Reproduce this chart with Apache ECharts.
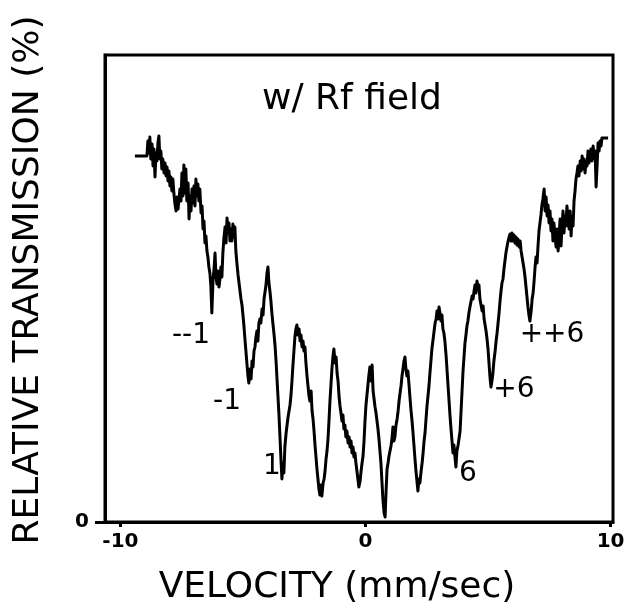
<!DOCTYPE html>
<html>
<head>
<meta charset="utf-8">
<script src="https://cdn.jsdelivr.net/npm/echarts@6/dist/echarts.min.js"></script>
<style>
html,body{margin:0;padding:0;background:#fff;}
#chart{width:631px;height:614px;}
</style>
</head>
<body>
<div id="chart"></div>
<script>
// Velocity (mm/sec)
var velocity = [
-9.41,-9.16,-8.92,-8.88,-8.84,-8.80,-8.76,-8.71,-8.67,-8.63,-8.59,-8.55,-8.51,-8.47,-8.43,-8.39,-8.35,-8.31,-8.27,-8.22,
-8.18,-8.14,-8.10,-8.06,-8.02,-7.98,-7.94,-7.90,-7.86,-7.82,-7.78,-7.73,-7.69,-7.65,-7.61,-7.57,-7.53,-7.49,-7.45,-7.41,
-7.37,-7.33,-7.29,-7.24,-7.20,-7.16,-7.12,-7.08,-7.04,-7.00,-6.96,-6.92,-6.88,-6.84,-6.80,-6.76,-6.71,-6.67,-6.63,-6.59,
-6.55,-6.51,-6.47,-6.43,-6.39,-6.35,-6.31,-6.27,-6.22,-6.18,-6.14,-6.10,-6.06,-6.02,-5.98,-5.94,-5.90,-5.86,-5.82,-5.78,
-5.73,-5.69,-5.65,-5.61,-5.57,-5.53,-5.49,-5.45,-5.41,-5.37,-5.33,-5.29,-5.24,-5.20,-5.16,-5.12,-5.08,-5.04,-5.00,-4.96,
-4.92,-4.88,-4.84,-4.80,-4.76,-4.71,-4.67,-4.63,-4.59,-4.55,-4.51,-4.47,-4.43,-4.39,-4.35,-4.31,-4.27,-4.22,-4.18,-4.14,
-4.10,-4.06,-4.02,-3.98,-3.94,-3.90,-3.86,-3.82,-3.78,-3.73,-3.69,-3.65,-3.61,-3.57,-3.53,-3.49,-3.45,-3.41,-3.37,-3.33,
-3.29,-3.24,-3.20,-3.16,-3.12,-3.08,-3.04,-3.00,-2.96,-2.92,-2.88,-2.84,-2.80,-2.76,-2.71,-2.67,-2.63,-2.59,-2.55,-2.51,
-2.47,-2.43,-2.39,-2.35,-2.31,-2.27,-2.22,-2.18,-2.14,-2.10,-2.06,-2.02,-1.98,-1.94,-1.90,-1.86,-1.82,-1.78,-1.73,-1.69,
-1.65,-1.61,-1.57,-1.53,-1.49,-1.45,-1.41,-1.37,-1.33,-1.29,-1.24,-1.20,-1.16,-1.12,-1.08,-1.04,-1.00,-0.96,-0.92,-0.88,
-0.84,-0.80,-0.76,-0.71,-0.67,-0.63,-0.59,-0.55,-0.51,-0.47,-0.43,-0.39,-0.35,-0.31,-0.27,-0.22,-0.18,-0.14,-0.10,-0.06,
-0.02,0.02,0.06,0.10,0.14,0.18,0.22,0.27,0.31,0.35,0.39,0.43,0.47,0.51,0.55,0.59,0.63,0.67,0.71,0.76,
0.80,0.84,0.88,0.92,0.96,1.00,1.04,1.08,1.12,1.16,1.20,1.24,1.29,1.33,1.37,1.41,1.45,1.49,1.53,1.57,
1.61,1.65,1.69,1.73,1.78,1.82,1.86,1.90,1.94,1.98,2.02,2.06,2.10,2.14,2.18,2.22,2.27,2.31,2.35,2.39,
2.43,2.47,2.51,2.55,2.59,2.63,2.67,2.71,2.76,2.80,2.84,2.88,2.92,2.96,3.00,3.04,3.08,3.12,3.16,3.20,
3.24,3.29,3.33,3.37,3.41,3.45,3.49,3.53,3.57,3.61,3.65,3.69,3.73,3.78,3.82,3.86,3.90,3.94,3.98,4.02,
4.06,4.10,4.14,4.18,4.22,4.27,4.31,4.35,4.39,4.43,4.47,4.51,4.55,4.59,4.63,4.67,4.71,4.76,4.80,4.84,
4.88,4.92,4.96,5.00,5.04,5.08,5.12,5.16,5.20,5.24,5.29,5.33,5.37,5.41,5.45,5.49,5.53,5.57,5.61,5.65,
5.69,5.73,5.78,5.82,5.86,5.90,5.94,5.98,6.02,6.06,6.10,6.14,6.18,6.22,6.27,6.31,6.35,6.39,6.43,6.47,
6.51,6.55,6.59,6.63,6.67,6.71,6.76,6.80,6.84,6.88,6.92,6.96,7.00,7.04,7.08,7.12,7.16,7.20,7.24,7.29,
7.33,7.37,7.41,7.45,7.49,7.53,7.57,7.61,7.65,7.69,7.73,7.78,7.82,7.86,7.90,7.94,7.98,8.02,8.06,8.10,
8.14,8.18,8.22,8.27,8.31,8.35,8.39,8.43,8.47,8.51,8.55,8.59,8.63,8.67,8.71,8.76,8.80,8.84,8.88,8.92,
8.96,9.00,9.04,9.08,9.12,9.16,9.20,9.24,9.29,9.33,9.37,9.41,9.45,9.49,9.53,9.57,9.61,9.65,9.78,9.90
];
// Relative transmission (arbitrary %, zero at baseline)
var transmission = [
73.2,73.2,73.2,76.2,73.8,77.0,72.6,75.6,71.2,74.6,69.0,73.8,72.2,75.8,77.2,72.6,74.2,70.6,72.6,69.8,
71.8,69.2,71.0,68.2,70.2,67.2,69.0,66.2,68.6,65.8,63.8,62.2,65.0,62.6,64.6,66.6,64.2,69.8,65.2,71.4,
65.8,70.6,64.2,67.8,60.6,65.2,62.2,66.6,63.8,67.2,63.2,68.6,65.2,67.6,64.2,66.6,61.8,63.2,58.6,60.2,
55.8,57.2,54.2,53.0,51.0,49.8,47.2,41.8,48.6,50.6,53.8,49.0,47.6,50.2,47.0,48.6,51.0,49.0,53.8,56.6,
59.0,55.8,60.8,57.8,59.8,56.2,58.6,56.2,59.6,57.0,59.0,54.2,51.4,49.4,47.8,46.2,44.6,43.4,41.4,39.2,
36.6,34.2,31.8,29.4,27.8,30.6,28.6,32.2,31.0,34.2,35.0,37.0,38.2,36.2,39.8,40.6,39.8,42.6,41.4,44.6,
45.0,47.4,49.8,51.0,47.8,46.2,44.2,41.8,39.8,37.4,35.2,32.2,28.6,25.0,21.4,17.0,12.6,8.6,11.8,9.8,
15.0,17.8,19.4,21.0,22.2,23.4,25.4,28.2,31.4,34.2,37.0,38.6,39.4,37.4,38.6,36.2,37.4,35.0,36.2,34.2,
35.0,31.8,29.4,27.4,25.4,24.2,26.2,22.2,20.6,18.2,15.4,13.0,10.6,8.6,6.6,5.4,7.4,5.2,7.8,8.6,
10.2,12.6,14.2,16.6,20.2,24.2,27.4,30.6,33.0,34.6,31.8,33.0,29.8,28.2,25.2,23.2,21.8,20.2,21.4,18.6,
19.4,17.0,18.2,15.8,17.0,15.0,16.2,13.8,15.0,13.0,13.8,11.8,10.2,8.6,7.0,8.2,10.2,11.8,13.2,16.2,
20.2,23.4,25.4,27.4,29.4,31.0,28.2,31.4,26.2,24.6,23.0,21.8,20.2,18.6,16.6,14.2,11.8,8.2,4.6,1.8,
1.0,6.2,10.6,11.8,13.2,14.2,15.2,16.6,19.0,16.2,17.0,19.2,20.6,22.2,24.2,25.8,27.2,29.2,30.6,32.2,
33.0,30.6,29.2,30.2,27.2,24.6,22.2,20.2,17.8,15.2,12.6,10.2,8.2,6.2,8.6,7.8,10.2,11.8,13.8,16.2,
17.8,20.6,23.2,25.2,27.2,29.8,32.2,34.6,36.6,38.2,39.8,40.6,42.2,40.6,43.0,41.8,40.2,41.4,38.6,37.8,
36.2,33.2,30.2,27.2,24.2,21.2,18.6,16.2,13.8,15.4,13.0,11.0,14.2,15.4,15.8,18.2,22.2,26.2,30.2,33.0,
35.8,37.4,39.2,40.2,41.8,43.2,44.2,45.2,44.6,46.2,47.4,45.8,48.2,46.6,47.4,44.6,44.2,42.2,43.2,40.6,
40.2,38.2,36.6,34.6,31.8,29.0,27.0,28.2,29.8,32.2,34.2,36.2,37.8,39.8,41.8,44.2,46.2,47.8,48.6,50.6,
52.2,53.8,55.2,56.2,57.0,57.6,56.2,57.8,56.2,57.4,55.8,57.0,55.4,56.6,55.0,56.2,54.2,53.0,51.8,50.6,
49.0,47.0,45.0,43.0,41.4,40.2,42.2,44.6,45.8,48.2,51.0,53.0,51.8,55.2,58.2,59.8,61.4,63.4,64.6,66.6,
62.2,65.0,61.2,63.4,59.8,62.2,58.2,60.6,56.2,59.8,57.2,55.0,58.6,54.2,57.2,60.6,55.2,59.2,62.2,57.8,
61.2,59.2,63.2,60.6,58.6,62.2,57.2,61.2,59.2,64.2,66.2,68.6,69.8,71.2,69.2,72.2,70.2,73.2,70.6,72.6,
69.8,72.2,71.2,74.2,71.8,73.2,74.6,72.2,75.2,72.6,74.2,67.0,71.2,75.8,74.2,76.2,75.2,76.8,76.8,76.8
];
var xTickValues = [-10, 0, 10];
var yTickValues = [0];
var peakLabels = ['--1', '-1', '1', '6', '+6', '++6'];
var titleText = 'w/ Rf field';
var xTitle = 'VELOCITY (mm/sec)';
var yTitle = 'RELATIVE TRANSMISSION (%)';

var seriesData = velocity.map(function (v, i) { return [v, transmission[i]]; });

var chart = echarts.init(document.getElementById('chart'), null, {renderer: 'canvas'});
var FONT = '"DejaVu Sans", sans-serif';
var labelPos = [[191, 336], [227, 402], [272, 467], [468, 474], [514, 390], [552, 335]];
var graphics = [
  {type: 'text', x: 352, y: 100, style: {text: titleText, font: 'normal 36px ' + FONT, fill: '#000', textAlign: 'center', textVerticalAlign: 'middle'}},
  {type: 'text', x: 337, y: 588, style: {text: xTitle, font: 'normal 36px ' + FONT, fill: '#000', textAlign: 'center', textVerticalAlign: 'middle'}},
  {type: 'text', x: 29, y: 280, rotation: Math.PI / 2, style: {text: yTitle, font: 'normal 36px ' + FONT, fill: '#000', textAlign: 'center', textVerticalAlign: 'middle'}}
];
peakLabels.forEach(function (t, i) {
  graphics.push({type: 'text', x: labelPos[i][0], y: labelPos[i][1], style: {text: t, font: 'normal 28px ' + FONT, fill: '#000', textAlign: 'center', textVerticalAlign: 'middle'}});
});

chart.setOption({
  animation: false,
  backgroundColor: '#fff',
  grid: {left: 105, right: 18, top: 55, bottom: 92, show: true, borderColor: '#000', borderWidth: 3, backgroundColor: 'transparent'},
  xAxis: {
    type: 'value', min: -10.63, max: 10.1,
    axisLine: {show: true, onZero: false, lineStyle: {color: '#000', width: 3}},
    axisTick: {show: true, customValues: xTickValues, length: 5, lineStyle: {color: '#000', width: 3}},
    axisLabel: {show: true, customValues: xTickValues, margin: 10, color: '#000', fontSize: 20, fontWeight: 'bold', fontFamily: FONT},
    splitLine: {show: false}
  },
  yAxis: {
    type: 'value', min: 0, max: 93.4,
    axisLine: {show: true, onZero: false, lineStyle: {color: '#000', width: 3}},
    axisTick: {show: true, customValues: yTickValues, length: 10, lineStyle: {color: '#000', width: 3}},
    axisLabel: {show: true, customValues: yTickValues, margin: 16, color: '#000', fontSize: 20, fontWeight: 'bold', fontFamily: FONT},
    splitLine: {show: false}
  },
  series: [{
    type: 'line', data: seriesData, showSymbol: false, symbol: 'none',
    lineStyle: {color: '#000', width: 3, join: 'round'},
    clip: true
  }],
  graphic: graphics
});
</script>
</body>
</html>
